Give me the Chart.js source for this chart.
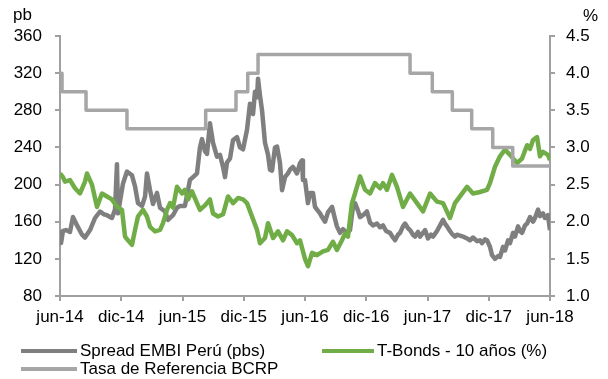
<!DOCTYPE html>
<html lang="es">
<head>
<meta charset="utf-8">
<title>Spread EMBI Perú, T-Bonds y Tasa de Referencia</title>
<script src="https://cdn.jsdelivr.net/npm/chart.js@4.4.1/dist/chart.umd.min.js"></script>
<style>
  html, body { margin: 0; padding: 0; background: #fff; }
  canvas { display: block; }
</style>
</head>
<body>
<canvas id="chart" width="608" height="379"></canvas>
<script>
// Eje X: meses transcurridos desde junio 2014 (0 = jun-14, 48 = jun-18)
const tickLabels = ['jun-14', 'dic-14', 'jun-15', 'dic-15', 'jun-16', 'dic-16', 'jun-17', 'dic-17', 'jun-18'];

const seriesNames = ['Spread EMBI Perú (pbs)', 'T-Bonds - 10 años (%)', 'Tasa de Referencia BCRP'];
const unitLeft = 'pb';
const unitRight = '%';

// Spread EMBI Perú, puntos básicos
const embiMonths = [0, 0.1, 0.29, 0.59, 0.98, 1.27, 1.67, 2.16, 2.45, 2.94, 3.43, 3.92, 4.31, 4.6, 5.09, 5.39, 5.58, 5.68,
  6.17, 6.56, 7.05, 7.35, 7.64, 8.03, 8.33, 8.52, 8.82, 9.11, 9.5, 9.8, 10.29, 10.58, 11.07, 11.46, 11.76,
  12.24, 12.73, 13.22, 13.42, 13.71, 13.91, 14.2, 14.4, 14.69, 14.99, 15.38, 15.67, 15.97, 16.16, 16.36, 16.65,
  16.95, 17.34, 17.63, 17.93, 18.32, 18.61, 18.91, 19.1, 19.3, 19.4, 19.59, 19.79, 20.08, 20.38, 20.57, 20.77,
  21.06, 21.26, 21.55, 21.75, 22.04, 22.33, 22.53, 22.82, 23.22, 23.51, 23.71, 23.8, 24.0, 24.29, 24.49, 24.78,
  24.98, 25.18, 25.47, 25.67, 25.96, 26.25, 26.65, 26.94, 27.13, 27.43, 27.72, 28.11, 28.41, 28.7, 28.9, 29.19,
  29.39, 29.78, 30.07, 30.37, 30.66, 31.05, 31.35, 31.64, 31.94, 32.33, 32.62, 32.82, 33.11, 33.31, 33.6, 33.8,
  34.09, 34.29, 34.58, 34.78, 35.07, 35.27, 35.56, 35.76, 36.05, 36.34, 36.54, 36.93, 37.23, 37.52, 37.71, 37.91,
  38.2, 38.4, 38.69, 38.89, 39.18, 39.48, 39.87, 40.16, 40.46, 40.85, 41.14, 41.34, 41.63, 41.83, 42.12, 42.32,
  42.61, 42.91, 43.1, 43.4, 43.59, 43.89, 44.08, 44.38, 44.57, 44.87, 45.06, 45.26, 45.55, 45.75, 46.04, 46.34,
  46.53, 46.83, 47.02, 47.31, 47.51, 47.8, 48.0];
const embiValues = [151, 137, 150, 151, 149, 165, 156, 146, 143, 151, 164, 171, 168, 167, 164, 173, 222, 169,
  201, 214, 210, 198, 180, 177, 187, 212, 194, 179, 191, 175, 171, 162, 167, 175, 177,
  177, 205, 210, 212, 240, 249, 236, 233, 266, 245, 230, 232, 219, 208, 224, 228,
  248, 251, 240, 238, 259, 287, 276, 300, 294, 314, 296, 280, 245, 232, 216, 215,
  240, 241, 223, 194, 208, 212, 216, 219, 212, 223, 226, 205, 205, 180, 191, 191,
  176, 173, 169, 165, 160, 170, 176, 163, 155, 148, 152, 148, 151, 176, 180, 172,
  165, 168, 171, 159, 156, 158, 154, 156, 150, 148, 143, 140, 146, 148, 155, 158,
  153, 151, 146, 144, 149, 144, 148, 151, 142, 146, 144, 150, 156, 162, 158, 155,
  150, 147, 144, 146, 145, 144, 142, 140, 143, 139, 140, 137, 141, 140, 133, 124,
  120, 123, 122, 133, 129, 140, 137, 148, 144, 155, 150, 148, 156, 158, 165, 160,
  164, 173, 166, 169, 164, 167, 151];

// Rendimiento del bono del Tesoro a 10 años, %
const tbondMonths = [0, 0.29, 0.49, 0.98, 1.47, 1.96, 2.45, 2.64, 3.13, 3.62, 4.11, 4.6, 5.09, 5.58, 6.07, 6.37,
  6.66, 7.05, 7.35, 7.64, 8.13, 8.52, 8.82, 9.31, 9.8, 10.09, 10.48, 10.78, 11.07, 11.46, 11.95, 12.24, 12.54,
  12.93, 13.42, 13.71, 14.2, 14.69, 14.99, 15.48, 15.97, 16.46, 16.95, 17.44, 17.93, 18.32, 18.81, 19.3, 19.59,
  20.08, 20.38, 20.87, 21.36, 21.85, 22.24, 22.73, 23.22, 23.51, 24.0, 24.29, 24.69, 25.18, 25.76, 26.25, 26.74,
  27.13, 27.62, 27.92, 28.21, 28.6, 28.9, 29.39, 29.88, 30.37, 30.86, 31.35, 31.64, 32.03, 32.52, 33.01, 33.6,
  34.29, 34.97, 35.56, 36.25, 36.93, 37.52, 38.2, 38.69, 39.18, 39.87, 40.46, 41.14, 41.83, 42.12, 42.61, 43.1,
  43.59, 44.08, 44.77, 45.26, 45.75, 46.04, 46.34, 46.73, 47.02, 47.31, 47.8, 48.0];
const tbondValues = [2.65, 2.60, 2.54, 2.56, 2.45, 2.38, 2.54, 2.65, 2.50, 2.20, 2.38, 2.34, 2.30, 2.20, 2.16, 1.80,
  1.75, 1.69, 1.89, 2.07, 2.16, 2.07, 1.93, 1.87, 1.89, 1.98, 2.16, 2.25, 2.19, 2.47, 2.38, 2.43, 2.30,
  2.41, 2.25, 2.16, 2.22, 2.30, 2.11, 2.07, 2.10, 2.34, 2.25, 2.32, 2.30, 2.25, 2.07, 1.89, 1.71,
  1.78, 1.98, 1.78, 1.87, 1.75, 1.87, 1.82, 1.71, 1.75, 1.50, 1.40, 1.58, 1.55, 1.60, 1.62, 1.73,
  1.62, 1.75, 1.84, 1.80, 2.25, 2.38, 2.61, 2.43, 2.38, 2.52, 2.45, 2.52, 2.43, 2.63, 2.47, 2.20,
  2.38, 2.25, 2.14, 2.38, 2.27, 2.25, 2.05, 2.25, 2.34, 2.47, 2.38, 2.40, 2.43, 2.52, 2.74, 2.88,
  2.97, 2.90, 2.79, 2.85, 3.03, 2.98, 3.10, 3.14, 2.88, 2.94, 2.90, 2.83];

// Tasa de referencia del BCRP, %: mes del cambio y nuevo nivel
const rateMonths = [0, 0.2, 2.55, 6.56, 14.27, 17.24, 18.39, 19.4, 34.29, 36.47, 38.43, 40.33, 42.39, 44.35, 48];
const rateValues = [4.0, 3.75, 3.5, 3.25, 3.5, 3.75, 4.0, 4.25, 4.0, 3.75, 3.5, 3.25, 3.0, 2.75, 2.75];

const toPoints = (xs, ys) => xs.map((x, i) => ({ x: x, y: ys[i] }));

const FONT = '"Liberation Sans", Arial, Helvetica, sans-serif';
const FONT_SIZE = 17;
const AXIS_GREY = '#a0a0a0';

// Unidades de los ejes y leyenda dibujadas bajo el eje X
const annotations = {
  id: 'unitsAndLegend',
  afterDraw(chart) {
    const ctx = chart.ctx;
    ctx.save();
    ctx.fillStyle = '#000';
    ctx.font = FONT_SIZE + 'px ' + FONT;
    ctx.textBaseline = 'middle';
    ctx.textAlign = 'left';
    ctx.fillText(unitLeft, 13, 15);
    ctx.textAlign = 'right';
    ctx.fillText(unitRight, 598, 16);

    const spots = [
      { x0: 21, x1: 77, y: 351 },
      { x0: 322, x1: 374, y: 351 },
      { x0: 21, x1: 77, y: 369 }
    ];
    chart.data.datasets.forEach((ds, i) => {
      const s = spots[i];
      ctx.strokeStyle = ds.borderColor;
      ctx.lineWidth = 4;
      ctx.lineCap = 'butt';
      ctx.beginPath();
      ctx.moveTo(s.x0, s.y);
      ctx.lineTo(s.x1, s.y);
      ctx.stroke();
      ctx.textAlign = 'left';
      ctx.fillStyle = '#000';
      ctx.fillText(ds.label, s.x1 + 3, s.y);
    });
    ctx.restore();
  }
};

const axisGrid = { drawOnChartArea: false, drawTicks: true, tickLength: 5, color: AXIS_GREY, lineWidth: 2 };
const axisBorder = { display: true, color: AXIS_GREY, width: 2 };

new Chart(document.getElementById('chart'), {
  type: 'line',
  data: {
    datasets: [
      {
        label: seriesNames[0],
        data: toPoints(embiMonths, embiValues),
        yAxisID: 'y',
        borderColor: '#7f7f7f',
        borderWidth: 4.5,
        order: 3
      },
      {
        label: seriesNames[1],
        data: toPoints(tbondMonths, tbondValues),
        yAxisID: 'y2',
        borderColor: '#70ad47',
        borderWidth: 4.5,
        order: 2
      },
      {
        label: seriesNames[2],
        data: toPoints(rateMonths, rateValues),
        yAxisID: 'y2',
        borderColor: '#a6a6a6',
        borderWidth: 3.5,
        stepped: 'before',
        order: 1
      }
    ]
  },
  options: {
    responsive: false,
    animation: false,
    devicePixelRatio: 1,
    layout: { padding: { top: 36, left: 0, right: 0, bottom: 0 } },
    elements: {
      point: { radius: 0, hoverRadius: 0 },
      line: { tension: 0, borderJoinStyle: 'round', borderCapStyle: 'butt' }
    },
    plugins: {
      legend: { display: false },
      tooltip: { enabled: false }
    },
    scales: {
      x: {
        type: 'linear',
        min: 0,
        max: 48,
        afterFit(scale) { scale.height = 83; },
        afterBuildTicks(scale) {
          scale.ticks = tickLabels.map((_, i) => ({ value: i * 6 }));
        },
        ticks: {
          autoSkip: false,
          maxRotation: 0,
          padding: 6,
          color: '#000',
          font: { family: FONT, size: FONT_SIZE },
          callback: (v) => tickLabels[Math.round(v / 6)]
        },
        grid: axisGrid,
        border: axisBorder
      },
      y: {
        position: 'left',
        min: 80,
        max: 360,
        afterFit(scale) { scale.width = 60; },
        ticks: {
          stepSize: 40,
          padding: 13,
          color: '#000',
          font: { family: FONT, size: FONT_SIZE }
        },
        grid: axisGrid,
        border: axisBorder
      },
      y2: {
        position: 'right',
        min: 1,
        max: 4.5,
        afterFit(scale) { scale.width = 58; },
        ticks: {
          stepSize: 0.5,
          padding: 11,
          color: '#000',
          font: { family: FONT, size: FONT_SIZE },
          callback: (v) => v.toFixed(1)
        },
        grid: axisGrid,
        border: axisBorder
      }
    }
  },
  plugins: [annotations]
});
</script>
</body>
</html>
